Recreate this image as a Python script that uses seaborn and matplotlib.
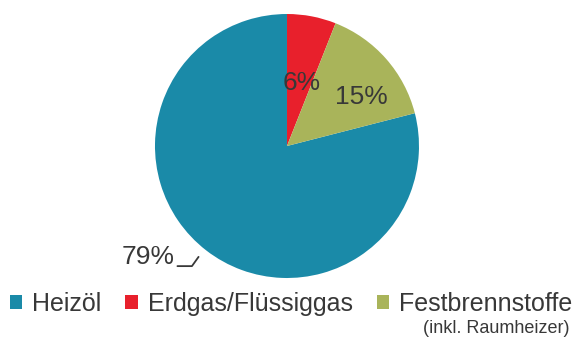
import matplotlib
matplotlib.use("Agg")
import matplotlib.pyplot as plt
from matplotlib.patches import Patch
import seaborn as sns

# data
categories = ["Heizöl", "Erdgas/Flüssiggas", "Festbrennstoffe"]
shares = [79, 6, 15]
pct_labels = ["79%", "6%", "15%"]
colors = ["#1a8aa8", "#e8202c", "#a9b45a"]

sns.set_theme(style="white")
plt.rcParams["font.family"] = ["Liberation Sans", "DejaVu Sans"]
text_color = "#383838"

fig = plt.figure(figsize=(5.82, 3.45), dpi=100)
ax = fig.add_axes([0.2663, 0.1942, 0.4536, 0.7652])

# start so that Erdgas begins at 12 o'clock, going clockwise
start = 90 - 360 * (shares[1] + shares[2]) / sum(shares)
wedges, _ = ax.pie(shares, colors=colors, startangle=start, counterclock=False,
                   radius=1, wedgeprops=dict(linewidth=0))
ax.set_xlim(-1, 1)
ax.set_ylim(-1, 1)
ax.set_aspect("equal")
ax.axis("off")

# slice labels
ax.text(0.11, 0.48, pct_labels[1], ha="center", va="center", fontsize=19, color=text_color)
ax.text(0.56, 0.37, pct_labels[2], ha="center", va="center", fontsize=19, color=text_color)
ax.text(-1.05, -0.84, pct_labels[0], ha="center", va="center", fontsize=19,
        color=text_color, clip_on=False)
ax.plot([-0.83, -0.72, -0.67], [-0.91, -0.91, -0.84], color=text_color, lw=1.3,
        clip_on=False)

# legend
handles = [Patch(facecolor=c, edgecolor="none") for c in colors]
fig.legend(handles, categories, loc="center", bbox_to_anchor=(0.5, 0.12), ncol=3,
           frameon=False, fontsize=18, handlelength=0.5, handleheight=0.5,
           handletextpad=0.4, columnspacing=0.95, labelcolor=text_color)
fig.text(0.852, 0.049, "(inkl. Raumheizer)", ha="center", va="center", fontsize=13,
         color=text_color)

fig.savefig("out.png", dpi=100)
